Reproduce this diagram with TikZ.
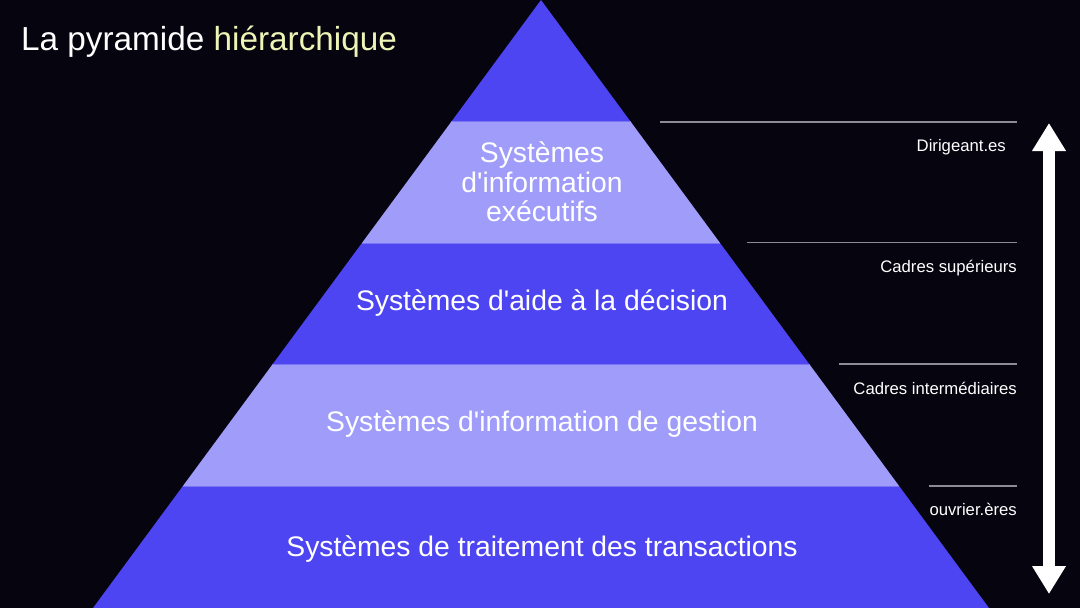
\documentclass[tikz,border=0pt]{standalone}
\usepackage{fontspec}
\setmainfont{Liberation Sans}
\usetikzlibrary{calc,arrows.meta}
\definecolor{bgc}{HTML}{05040F}
\definecolor{darkband}{HTML}{4D45F1}
\definecolor{lightband}{HTML}{9F9CFA}
\definecolor{sepc}{HTML}{7A74F3}
\definecolor{grayline}{HTML}{8C8C96}
\definecolor{titleyellow}{HTML}{EEF4B6}
\newcommand{\apos}{\textquotesingle}
\tikzset{
  bandtext/.style={text=white,align=center,font=\fontsize{28.3}{29.5}\selectfont,inner sep=0pt},
  leveltext/.style={text=white,anchor=east,font=\fontsize{16.7}{18}\selectfont,inner sep=0pt},
  levelline/.style={draw=grayline,line width=1.3pt},
  bigarrow/.style={draw=white,line width=12pt,{Triangle[width=32pt,length=28pt]}-{Triangle[width=32pt,length=28pt]}}
}
\begin{document}
\begin{tikzpicture}[x=1pt,y=-1pt]
\fill[bgc] (0,0) rectangle (1080,608);
\useasboundingbox (0,0) rectangle (1080,608);
\coordinate (apex) at (541,0);
\coordinate (bl) at (93,608);
\coordinate (br) at (989,608);
% bands
\foreach \a/\b/\c in {0/0.2/darkband,0.2/0.4/lightband,0.4/0.6/darkband,0.6/0.8/lightband,0.8/1/darkband}{
  \fill[\c] ($(apex)!\a!(bl)$) -- ($(apex)!\b!(bl)$) -- ($(apex)!\b!(br)$) -- ($(apex)!\a!(br)$) -- cycle;
}
\foreach \f in {0.2,0.4,0.6,0.8}{
  \draw[sepc,line width=1.2pt] ($(apex)!\f!(bl)$) -- ($(apex)!\f!(br)$);
}
% band texts
\node[bandtext] (exec) at (542,182) {Systèmes\\d\apos information\\exécutifs};
\node[bandtext] (dss) at (542,303) {Systèmes d\apos aide à la décision};
\node[bandtext] (mis) at (542,424) {Systèmes d\apos information de gestion};
\node[bandtext] (tps) at (542,549.5) {Systèmes de traitement des transactions};
% level lines
\draw[levelline] (660,122) -- (1017,122);
\draw[levelline] (747,242.5) -- (1017,242.5);
\draw[levelline] (839,364) -- (1017,364);
\draw[levelline] (929,486) -- (1017,486);
% level labels
\node[leveltext] (l1) at (1006,147.5) {Dirigeant.es};
\node[leveltext] (l2) at (1017,268.5) {Cadres supérieurs};
\node[leveltext] (l3) at (1017,388.5) {Cadres intermédiaires};
\node[leveltext] (l4) at (1017,509.5) {ouvrier.ères};
% arrow
\coordinate (atop) at (1049,123);
\coordinate (abot) at (1049,594);
\draw[bigarrow] (abot) -- (atop);
% title
\node[anchor=west,inner sep=0pt,text=white,font=\fontsize{33.3}{35}\selectfont] (title) at (21,42) {La pyramide \textcolor{titleyellow}{hiérarchique}};
\end{tikzpicture}
\end{document}
